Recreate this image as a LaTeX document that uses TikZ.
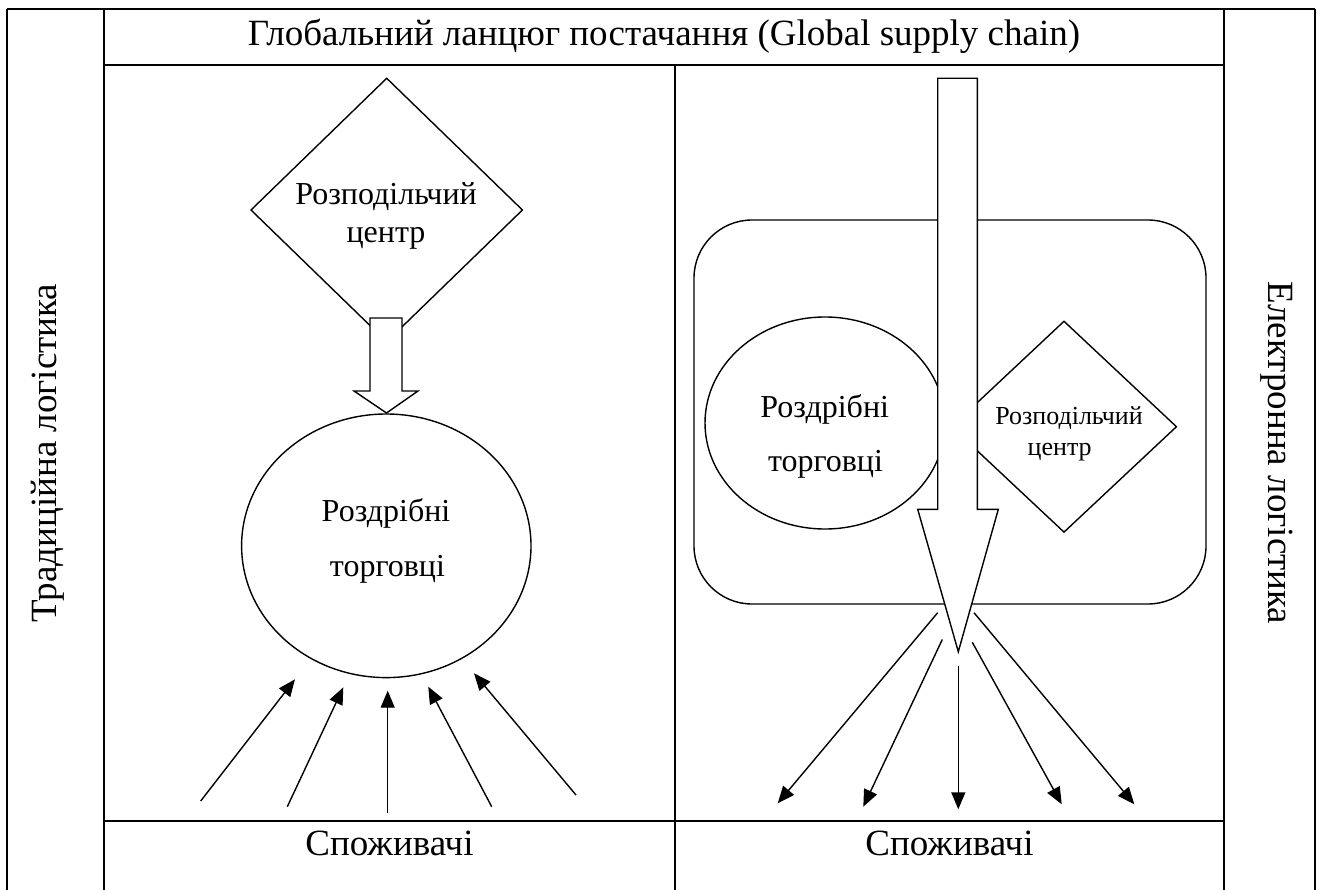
\documentclass[tikz,border=0pt]{standalone}
\usepackage{fontspec}
\setmainfont{Liberation Serif}
\usetikzlibrary{shapes.geometric,arrows.meta}
\begin{document}
\begin{tikzpicture}[x=1pt,y=-1pt,
  tbl/.style={line width=2pt},
  shp/.style={draw,line width=1.4pt,inner sep=0pt,fill=white},
  blk/.style={draw,line width=1.4pt,fill=white,line join=miter},
  con/.style={line width=1.4pt,-{Triangle[length=17pt,width=14pt]}},
  bigtxt/.style={font=\fontsize{37}{44}\selectfont,inner sep=0pt},
  midtxt/.style={font=\fontsize{32}{38}\selectfont,inner sep=0pt,anchor=base},
  smltxt/.style={font=\fontsize{26}{31}\selectfont,inner sep=0pt,anchor=base}]
\useasboundingbox (0,0) rectangle (1322,890);
\fill[white] (0,0) rectangle (1322,890);
% table
\draw[tbl] (7,9) -- (1315,9);
\draw[tbl] (104,65) -- (1224,65);
\draw[tbl] (104,821) -- (1224,821);
\draw[tbl] (7,9) -- (7,890);
\draw[tbl] (104,9) -- (104,890);
\draw[tbl] (1224,9) -- (1224,890);
\draw[tbl] (1315,9) -- (1315,890);
\draw[tbl] (675,65) -- (675,890);
% headers
\node[bigtxt,anchor=base] (head) at (664,46) {Глобальний ланцюг постачання (Global supply chain)};
\node[bigtxt,anchor=base,rotate=90] (trad) at (56,453) {Традиційна логістика};
\node[bigtxt,anchor=base,rotate=-90] (elec) at (1268,453) {Електронна логістика};
\node[bigtxt,anchor=base] (consL) at (389.5,855) {Споживачі};
\node[bigtxt,anchor=base] (consR) at (949.5,855) {Споживачі};
% left panel
\node[shp,diamond,minimum width=272pt,minimum height=264pt] (dcL) at (386.7,210) {};
\node[shp,ellipse,minimum width=289.4pt,minimum height=263.6pt] (rtL) at (386.3,545.8) {};
\draw[blk] (370,318) -- (402,318) -- (402,391) -- (418,391) -- (386.5,413) -- (354,391) -- (370,391) -- cycle;
\node[midtxt] (dcLt1) at (386,205) {Розподільчий};
\node[midtxt] (dcLt2) at (386,242.7) {центр};
\node[midtxt] (rtLt1) at (386,521.7) {Роздрібні};
\node[midtxt] (rtLt2) at (387.5,576.7) {торговці};
\coordinate (la1) at (200.7,801);   \coordinate (lb1) at (295,679.3);
\coordinate (la2) at (287.3,806.7); \coordinate (lb2) at (343.3,687.3);
\coordinate (la3) at (387.7,812.7); \coordinate (lb3) at (387.7,690.7);
\coordinate (la4) at (491.7,806.7); \coordinate (lb4) at (428.3,686.7);
\coordinate (la5) at (576,795);     \coordinate (lb5) at (474,673.3);
\foreach \i in {1,...,5} \draw[con] (la\i) -- (lb\i);
% right panel
\node[shp,rounded corners=58pt,minimum width=512pt,minimum height=384pt] (box) at (950,412) {};
\node[shp,ellipse,minimum width=240pt,minimum height=212pt] (rtR) at (825,423) {};
\node[shp,diamond,minimum width=225.4pt,minimum height=211.4pt] (dcR) at (1064,426.7) {};
\draw[blk] (937.7,78.3) -- (977.3,78.3) -- (977.3,509.3) -- (998.3,509.3) -- (958.3,651.7) -- (917.7,509.3) -- (937.7,509.3) -- cycle;
\node[midtxt] (rtRt1) at (824.7,417) {Роздрібні};
\node[midtxt] (rtRt2) at (825.5,471.7) {торговці};
\node[smltxt] (dcRt1) at (1069,424) {Розподільчий};
\node[smltxt] (dcRt2) at (1059.7,455) {центр};
\coordinate (ra1) at (937.7,612.7); \coordinate (rb1) at (777.7,803.3);
\coordinate (ra2) at (942.3,639.5); \coordinate (rb2) at (863.3,806.7);
\coordinate (ra3) at (958.3,666);   \coordinate (rb3) at (958.3,809.3);
\coordinate (ra4) at (972.3,642.3); \coordinate (rb4) at (1061.7,804.3);
\coordinate (ra5) at (974,612.7);   \coordinate (rb5) at (1134.3,804.3);
\foreach \i in {1,...,5} \draw[con] (ra\i) -- (rb\i);
\end{tikzpicture}
\end{document}
